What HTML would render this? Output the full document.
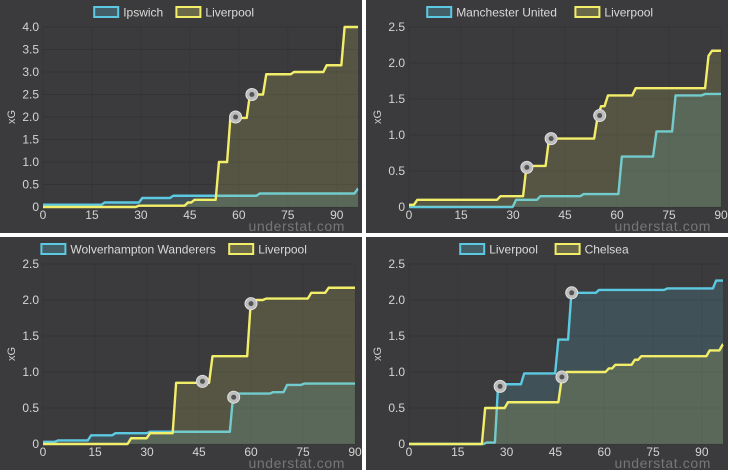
<!DOCTYPE html>
<html><head><meta charset="utf-8"><style>
body{margin:0;width:730px;height:473px;background:#fff;overflow:hidden;font-family:"Liberation Sans",sans-serif}
.panel{position:absolute;width:362px;height:233px;background:#3b3b3d}
svg{position:absolute;left:0;top:0}
</style></head><body>
<div class="panel" style="left:0;top:0"><svg id="c0" width="362" height="233"></svg></div>
<div class="panel" style="left:366px;top:0"><svg id="c1" width="362" height="233"></svg></div>
<div class="panel" style="left:0;top:237px"><svg id="c2" width="362" height="234"></svg></div>
<div class="panel" style="left:366px;top:237px"><svg id="c3" width="362" height="234"></svg></div>
<script>
const xTicks=[0,15,30,45,60,75,90];
const yTicks4=[0,0.5,1.0,1.5,2.0,2.5,3.0,3.5,4.0];
const yTicks25=[0,0.5,1.0,1.5,2.0,2.5];
// chart 1
const c1Names=["Ipswich","Liverpool"];
const c1HomeMin=[0,18.5,30,39.5,66,96];
const c1HomeXg=[0.05,0.1,0.2,0.25,0.3,0.4];
const c1AwayMin=[0,29,44,46,53.5,57,63,68,76.5,86.5,92];
const c1AwayXg=[0,0.03,0.1,0.16,1.0,1.98,2.5,2.95,3.0,3.15,4.0];
const c1GoalsMin=[59,64];const c1GoalsXg=[2.0,2.5];
// chart 2
const c2Names=["Manchester United","Liverpool"];
const c2HomeMin=[0,30.5,37.5,50,61,71,76.5,85];
const c2HomeXg=[0,0.1,0.15,0.18,0.7,1.05,1.55,1.57];
const c2AwayMin=[0,2,26,33.5,40,54,55,57,65,86,87];
const c2AwayXg=[0.03,0.1,0.15,0.57,0.95,1.25,1.4,1.55,1.65,2.1,2.17];
const c2GoalsMin=[34,41,55];const c2GoalsXg=[0.55,0.95,1.27];
// chart 3
const c3Names=["Wolverhampton Wanderers","Liverpool"];
const c3HomeMin=[0,4,13.5,20.5,30.5,54.5,66,70,75];
const c3HomeXg=[0.03,0.05,0.12,0.15,0.17,0.7,0.72,0.82,0.84];
const c3AwayMin=[0,25,30.5,38,48.5,59.5,61,64,77,82];
const c3AwayXg=[0,0.08,0.15,0.85,1.22,1.95,2.0,2.02,2.1,2.17];
const c3GoalsHMin=[55];const c3GoalsHXg=[0.65];
const c3GoalsMin=[46,60];const c3GoalsXg=[0.87,1.95];
// chart 4
const c4Names=["Liverpool","Chelsea"];
const c4HomeMin=[0,23.5,27,35,45.5,49.5,58,79,94];
const c4HomeXg=[0,0.02,0.83,0.98,1.45,2.1,2.14,2.16,2.27];
const c4AwayMin=[0,23,30,46.5,48,61,63,69,71,92,96];
const c4AwayXg=[0,0.5,0.58,0.9,1.0,1.05,1.1,1.17,1.22,1.3,1.38];
const c4GoalsHMin=[28,50];const c4GoalsHXg=[0.8,2.1];
const c4GoalsAMin=[47];const c4GoalsAXg=[0.93];

const NS="http://www.w3.org/2000/svg";
const BLUE="#5cc9e2",YEL="#f3ee6a";
function mk(svg,tag,at,txt){const e=document.createElementNS(NS,tag);for(const k in at)e.setAttribute(k,at[k]);if(txt!=null)e.textContent=txt;svg.appendChild(e);return e;}
function draw(id,names,yTicks,ymax,xmax,xEndPx,series,goals){
  const svg=document.getElementById(id);
  const L=43,B=207,T=27,px90=L+(xEndPx-L)*90/xmax;
  const X=m=>L+(px90-L)*m/90, Y=v=>B-(B-T)*v/ymax;
  yTicks.forEach(t=>{
    const g=mk(svg,'line',{x1:L,x2:xEndPx,y1:Y(t),y2:Y(t),stroke:'#333335','stroke-width':1});
    
    const tx=mk(svg,'text',{x:L-4,y:Y(t)+4,'text-anchor':'end','font-size':12,fill:'#d4d4d4'},t===0?'0':t.toFixed(1));
    
  });
  xTicks.forEach(t=>{
    const g=mk(svg,'line',{x1:X(t),x2:X(t),y1:T,y2:B,stroke:'#363638','stroke-width':1});
    
    const tx=mk(svg,'text',{x:X(t),y:B+12,'text-anchor':'middle','font-size':12,fill:'#d4d4d4'},String(t));
    
  });
  const yl=mk(svg,'text',{x:0,y:0,transform:'translate(15,117) rotate(-90)','text-anchor':'middle','font-size':11,fill:'#cfcfcf'},'xG');
  
  series.forEach((s,i)=>{
    let d='M'+X(s.m[0])+','+Y(s.v[0]);
    for(let k=1;k<s.m.length;k++){d+=' L'+X(s.m[k]-0.6)+','+Y(s.v[k-1])+' L'+X(s.m[k]+0.4)+','+Y(s.v[k]);}
    d+=' L'+xEndPx+','+Y(s.v[s.v.length-1]);
    const f=mk(svg,'path',{d:d+' L'+xEndPx+','+B+' L'+X(s.m[0])+','+B+' Z',fill:s.fill,stroke:'none'});
    
    const p=mk(svg,'path',{d:d,fill:'none',stroke:s.c,'stroke-width':2.4,'stroke-linejoin':'round'});
    
  });
  goals.forEach(g=>{g.m.forEach((m,k)=>{
    const c=mk(svg,'circle',{cx:X(m),cy:Y(g.v[k]),r:6,fill:'#bdbdbd',stroke:'#e0e0e0','stroke-width':1});
    
    const c2=mk(svg,'circle',{cx:X(m),cy:Y(g.v[k]),r:2.5,fill:'#555'});
    
  });});
  const w0=names[0].length*6.6,w1=names[1].length*6.6;
  const tot=26+4+w0+6+26+4+w1;let x=180-tot/2;
  [[names[0],BLUE,'rgba(92,201,226,0.25)',w0],[names[1],YEL,'rgba(243,238,106,0.25)',w1]].forEach(([n,c,f,w])=>{
    const r=mk(svg,'rect',{x:x,y:7,width:24,height:10,fill:f,stroke:c,'stroke-width':2});
    
    const t=mk(svg,'text',{x:x+29,y:16.5,'font-size':12,fill:'#dadada'},n);
    
    x+=30+w+6;
  });
  const wm=mk(svg,'text',{x:345,y:231,'text-anchor':'end','font-size':14,fill:'#767678','letter-spacing':'0.6'},'understat.com');
  
}
const FB='rgba(92,201,226,0.16)',FY='rgba(230,225,100,0.16)';
draw('c0',c1Names,yTicks4,4,96.5,358,[{m:c1HomeMin,v:c1HomeXg,c:BLUE,fill:FB},{m:c1AwayMin,v:c1AwayXg,c:YEL,fill:FY}],[{m:c1GoalsMin,v:c1GoalsXg}]);
draw('c1',c2Names,yTicks25,2.5,90,355,[{m:c2HomeMin,v:c2HomeXg,c:BLUE,fill:FB},{m:c2AwayMin,v:c2AwayXg,c:YEL,fill:FY}],[{m:c2GoalsMin,v:c2GoalsXg}]);
draw('c2',c3Names,yTicks25,2.5,90,355,[{m:c3HomeMin,v:c3HomeXg,c:BLUE,fill:FB},{m:c3AwayMin,v:c3AwayXg,c:YEL,fill:FY}],[{m:c3GoalsHMin,v:c3GoalsHXg},{m:c3GoalsMin,v:c3GoalsXg}]);
draw('c3',c4Names,yTicks25,2.5,96.5,357,[{m:c4HomeMin,v:c4HomeXg,c:BLUE,fill:FB},{m:c4AwayMin,v:c4AwayXg,c:YEL,fill:FY}],[{m:c4GoalsHMin,v:c4GoalsHXg},{m:c4GoalsAMin,v:c4GoalsAXg}]);
</script>
</body></html>
